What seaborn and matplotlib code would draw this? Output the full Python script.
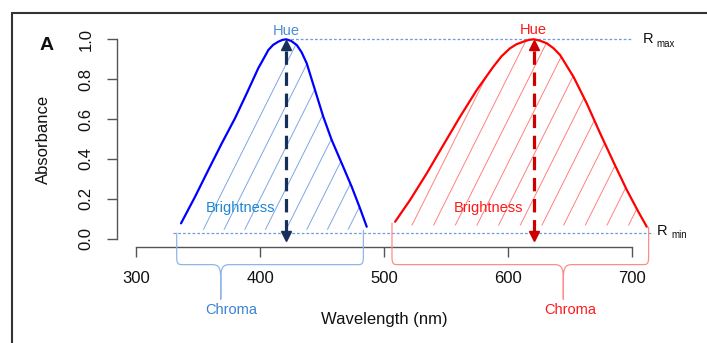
import numpy as np
import pandas as pd
import matplotlib
matplotlib.use("Agg")
import matplotlib.pyplot as plt
import seaborn as sns
from matplotlib.path import Path
from matplotlib.patches import PathPatch, Rectangle

# ---------------- data ----------------
blue_wl = [336.1, 347.4, 358.2, 369.0, 379.7, 389.2, 398.5, 403.0, 406.6, 410.5,
           414.7, 418.0, 421.0, 425.0, 429.6, 433.5, 437.6, 444.3, 451.0, 457.8,
           465.9, 474.0, 480.7, 486.1]
blue_abs = [0.077, 0.21, 0.345, 0.478, 0.604, 0.729, 0.855, 0.905, 0.946, 0.972,
            0.988, 0.997, 1.0, 0.992, 0.971, 0.935, 0.88, 0.746, 0.612, 0.495,
            0.378, 0.26, 0.152, 0.06]
red_wl = [509.0, 521.1, 534.6, 548.0, 561.5, 575.0, 588.4, 595.0, 601.9, 607.0,
          612.6, 617.0, 621.0, 626.0, 631.5, 637.0, 642.3, 653.1, 663.8, 674.6,
          685.3, 696.2, 705.5, 712.3]
red_abs = [0.085, 0.194, 0.328, 0.47, 0.612, 0.746, 0.863, 0.915, 0.955, 0.975,
           0.988, 0.997, 1.0, 0.993, 0.98, 0.955, 0.921, 0.812, 0.679, 0.529,
           0.386, 0.244, 0.135, 0.06]
hue_wl = [421.0, 621.0]
r_max = 1.0
r_min = 0.03
chroma_blue = [332.6, 483.4]
chroma_red = [506.5, 713.8]
chroma_tip = [368.2, 644.9]
x_ticks = [300, 400, 500, 600, 700]
y_ticks = [0.0, 0.2, 0.4, 0.6, 0.8, 1.0]

# ---------------- style ----------------
sns.set_style("white")
plt.rcParams["font.family"] = ["Liberation Sans", "DejaVu Sans"]

fig = plt.figure(figsize=(7.07, 3.43), dpi=100)
ax = fig.add_axes([0.1651, 0.2808, 0.7632, 0.6279])

df = pd.DataFrame({
    "wl": blue_wl + red_wl,
    "abs": blue_abs + red_abs,
    "pigment": ["blue"] * len(blue_wl) + ["red"] * len(red_wl),
})
sns.lineplot(data=df, x="wl", y="abs", hue="pigment",
             palette={"blue": "#0000ff", "red": "#ff0000"},
             sort=False, legend=False, lw=1.6, ax=ax, zorder=4,
             solid_joinstyle="round")

ax.set_xlim(284.17, 720)
ax.set_ylim(-0.04, 1.04)

# hatched area under each curve (lines clipped to the area)
slope = 2.0 * 1.238 / 199.4  # data units per nm for ~63 deg lines
for wl, ab, base, phase, step, col in [
        (blue_wl, blue_abs, 0.045, 354.1, 16.7, "#7ea7e2"),
        (red_wl, red_abs, 0.066, 522.5, 17.5, "#ff8080")]:
    poly = ax.fill_between(wl, ab, base, facecolor="none", edgecolor="none")
    clip = poly.get_paths()[0]
    b = phase
    while b < wl[-1]:
        ln, = ax.plot([b, b + (1.1 - base) / slope], [base, 1.1],
                      color=col, lw=0.7, zorder=2)
        ln.set_clip_path(clip, ax.transData)
        b += step

# R max / R min reference lines
dot_col = "#6f9ddf"
ax.plot([hue_wl[0], 700], [r_max, r_max], color=dot_col, lw=0.9,
        ls=(0, (2.2, 1.6)), zorder=1)
ax.plot([329.4, 717.5], [r_min, r_min], color=dot_col, lw=0.9,
        ls=(0, (2.2, 1.6)), zorder=1, clip_on=False)

# Hue arrows
for h, col in [(hue_wl[0], "#15305a"), (hue_wl[1], "#cc0000")]:
    ax.plot([h, h], [0.03, 0.95], color=col, lw=2.3,
            ls=(0, (4.2, 2.4)), zorder=5)
    ax.plot([h], [0.972], marker="^", ms=6.5, color=col, mec=col, zorder=6)
    ax.plot([h], [0.012], marker="v", ms=6.5, color=col, mec=col, zorder=6,
            clip_on=False)

# Chroma braces
def brace(x0, x1, xt, ytop0, ytop1, col):
    ybar, ytip = -0.130, -0.305
    dx, dy = 5.0, 0.04
    w = 7.0
    verts = [
        (x0, ytop0), (x0, ybar + dy),
        (x0, ybar), (x0 + dx * 0.3, ybar), (x0 + dx, ybar),
        (xt - w, ybar),
        (xt - 1.0, ybar), (xt, ybar - 0.02), (xt, ybar - 0.08),
        (xt, ytip),
        (xt, ybar - 0.08),
        (xt, ybar - 0.02), (xt + 1.0, ybar), (xt + w, ybar),
        (x1 - dx, ybar),
        (x1 - dx * 0.3, ybar), (x1, ybar), (x1, ybar + dy),
        (x1, ytop1),
    ]
    codes = [Path.MOVETO, Path.LINETO,
             Path.CURVE4, Path.CURVE4, Path.CURVE4,
             Path.LINETO,
             Path.CURVE4, Path.CURVE4, Path.CURVE4,
             Path.LINETO, Path.LINETO,
             Path.CURVE4, Path.CURVE4, Path.CURVE4,
             Path.LINETO,
             Path.CURVE4, Path.CURVE4, Path.CURVE4,
             Path.LINETO]
    p = PathPatch(Path(verts, codes), fill=False, ec=col, lw=0.9,
                  clip_on=False, zorder=3)
    ax.add_patch(p)

brace(chroma_blue[0], chroma_blue[1], chroma_tip[0], 0.03, 0.045, "#8fb6ea")
brace(chroma_red[0], chroma_red[1], chroma_tip[1], 0.08, 0.06, "#ff8c8c")

# Text annotations
fs = 10.5
ax.text(hue_wl[0], 1.043, "Hue", color="#4a8fd9", fontsize=fs,
        ha="center", va="center", clip_on=False)
ax.text(hue_wl[1], 1.047, "Hue", color="#ff1a1a", fontsize=fs,
        ha="center", va="center", clip_on=False)
ax.text(383.8, 0.152, "Brightness", color="#1f86d4", fontsize=fs,
        ha="center", va="center", zorder=7)
ax.text(584.8, 0.152, "Brightness", color="#ff1a1a", fontsize=fs,
        ha="center", va="center", zorder=7)
ax.text(377.0, -0.358, "Chroma", color="#3a82d6", fontsize=fs,
        ha="center", va="center", clip_on=False)
ax.text(650.5, -0.358, "Chroma", color="#ff1a1a", fontsize=fs,
        ha="center", va="center", clip_on=False)
ax.text(709.3, 1.0, "R", fontsize=10.5, ha="left", va="center", clip_on=False,
        color="#111111")
ax.text(720.1, 0.976, "max", fontsize=7, ha="left", va="center",
        clip_on=False, color="#111111")
ax.text(720.6, 0.037, "R", fontsize=10.5, ha="left", va="center",
        clip_on=False, color="#111111")
ax.text(732.5, 0.02, "min", fontsize=7, ha="left", va="center",
        clip_on=False, color="#111111")

# Axes (R base graphics look)
for s in ["top", "right"]:
    ax.spines[s].set_visible(False)
for s in ["left", "bottom"]:
    ax.spines[s].set_visible(True)
    ax.spines[s].set_color("#555555")
    ax.spines[s].set_linewidth(1.0)
ax.spines["left"].set_bounds(0, 1)
ax.spines["bottom"].set_bounds(300, 700)
ax.set_xticks(x_ticks)
ax.set_yticks(y_ticks)
ax.set_xticklabels([str(t) for t in x_ticks])
ax.set_yticklabels([f"{t:.1f}" for t in y_ticks])
ax.tick_params(axis="x", length=7.2, width=1.0, color="#555555", pad=10,
               labelsize=12, labelcolor="#111111", direction="out", bottom=True)
ax.tick_params(axis="y", length=7.0, width=1.0, color="#555555", pad=9.5,
               labelsize=12, labelcolor="#111111", direction="out", left=True,
               labelrotation=90)
for lbl in ax.get_yticklabels():
    lbl.set_va("center")
ax.grid(False)

ax.set_xlabel("Wavelength (nm)", fontsize=12, color="#111111", va="center")
ax.xaxis.set_label_coords(0.4954, -0.340)
ax.set_ylabel("Absorbance", fontsize=12, color="#111111", va="center")
ax.yaxis.set_label_coords(-0.1366, 0.5)

# Panel frame and label
fig.add_artist(Rectangle((12.3 / 707, -0.2), 1.2, 1.2 - 12.7 / 343,
                         transform=fig.transFigure, fill=False,
                         ec="#333333", lw=1.5))
fig.text(46.7 / 707, 1 - 45 / 343, "A", fontsize=14, fontweight="bold",
         ha="center", va="center", color="#111111")

fig.savefig("out.png", dpi=100)
